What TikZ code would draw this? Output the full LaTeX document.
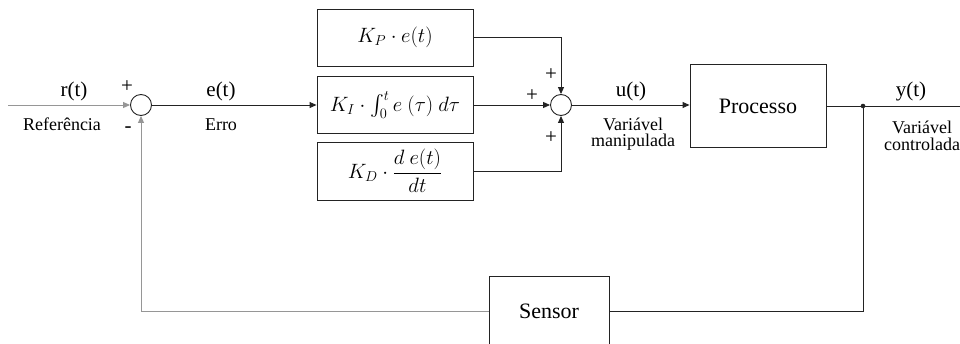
\documentclass[tikz,border=0pt]{standalone}
\usepackage{amsmath}
\usepackage{fontspec}
\setmainfont{Liberation Serif}
\usepackage{xcolor}
\definecolor{linegray}{RGB}{150,150,150}
\definecolor{darkline}{RGB}{35,35,35}
\usetikzlibrary{arrows.meta}

\begin{document}
\begin{tikzpicture}[x=1pt, y=-1pt, >={Triangle[length=7pt,width=6pt]},
    block/.style={draw=darkline, line width=0.9pt, minimum width=156pt, minimum height=57pt, inner sep=0pt, font=\fontsize{20.5}{24}\selectfont},
    junction/.style={draw=darkline, circle, line width=0.9pt, minimum size=21pt, inner sep=0pt},
    signal/.style={font=\fontsize{21}{24}\selectfont},
    note/.style={font=\fontsize{18}{16.5}\selectfont, align=center},
    sign/.style={font=\fontsize{21}{24}\selectfont, inner sep=0pt},
    wire/.style={line width=0.9pt, darkline},
    greywire/.style={line width=0.9pt, linegray}]
    \useasboundingbox (0,0) rectangle (960,343);

    % blocks
    \node[junction] (sum1) at (141,105) {};
    \node[block] (kp) at (395,37.5) {$K_P \cdot e(t)$};
    \node[block] (ki) at (395,105) {$K_I \cdot \int_0^t e\ (\tau)\ d\tau$};
    \node[block, minimum height=58pt] (kd) at (395,171) {$K_D \cdot \dfrac{d\ e(t)}{dt}$};
    \node[junction] (sum2) at (561,105) {};
    \node[block, minimum width=136pt, minimum height=83pt, font=\fontsize{22}{26}\selectfont] (proc) at (758,106) {Processo};
    \node[block, minimum width=120pt, minimum height=70pt, font=\fontsize{22}{26}\selectfont] (sens) at (549,311) {Sensor};
    \coordinate (ref) at (8,105);
    \coordinate (tap) at (863,106);
    \coordinate (out) at (960,106);
    \fill[darkline] (tap) circle (2.3pt);

    % connections
    \draw[greywire, ->] (ref) -- (sum1);
    \draw[wire, ->] (sum1) -- (ki);
    \draw[wire, ->] (kp) -| (sum2);
    \draw[wire, ->] (ki) -- (sum2);
    \draw[wire, ->] (kd) -| (sum2);
    \draw[wire, ->] (sum2) -- (sum2 -| proc.west);
    \draw[wire] (proc) -- (out);
    \draw[wire] (tap) |- (sens);
    \draw[greywire, ->] (sens) -| (sum1);

    % labels
    \node[signal] (rlab) at (74,91) {r(t)};
    \node[note] (reflab) at (62,124) {Referência};
    \node[sign] (plusr) at (127,87) {+};
    \node[sign] (minusy) at (128,130) {-};
    \node[signal] (elab) at (221,91) {e(t)};
    \node[note] (errlab) at (221,125) {Erro};
    \node[sign] (plusp) at (551,75) {+};
    \node[sign] (plusi) at (532,96) {+};
    \node[sign] (plusd) at (551,138) {+};
    \node[signal] (ulab) at (631,91) {u(t)};
    \node[note] (mvlab) at (633,134) {Variável\\manipulada};
    \node[signal] (ylab) at (911,91) {y(t)};
    \node[note] (cvlab) at (922,136) {Variável\\controlada};
\end{tikzpicture}
\end{document}
